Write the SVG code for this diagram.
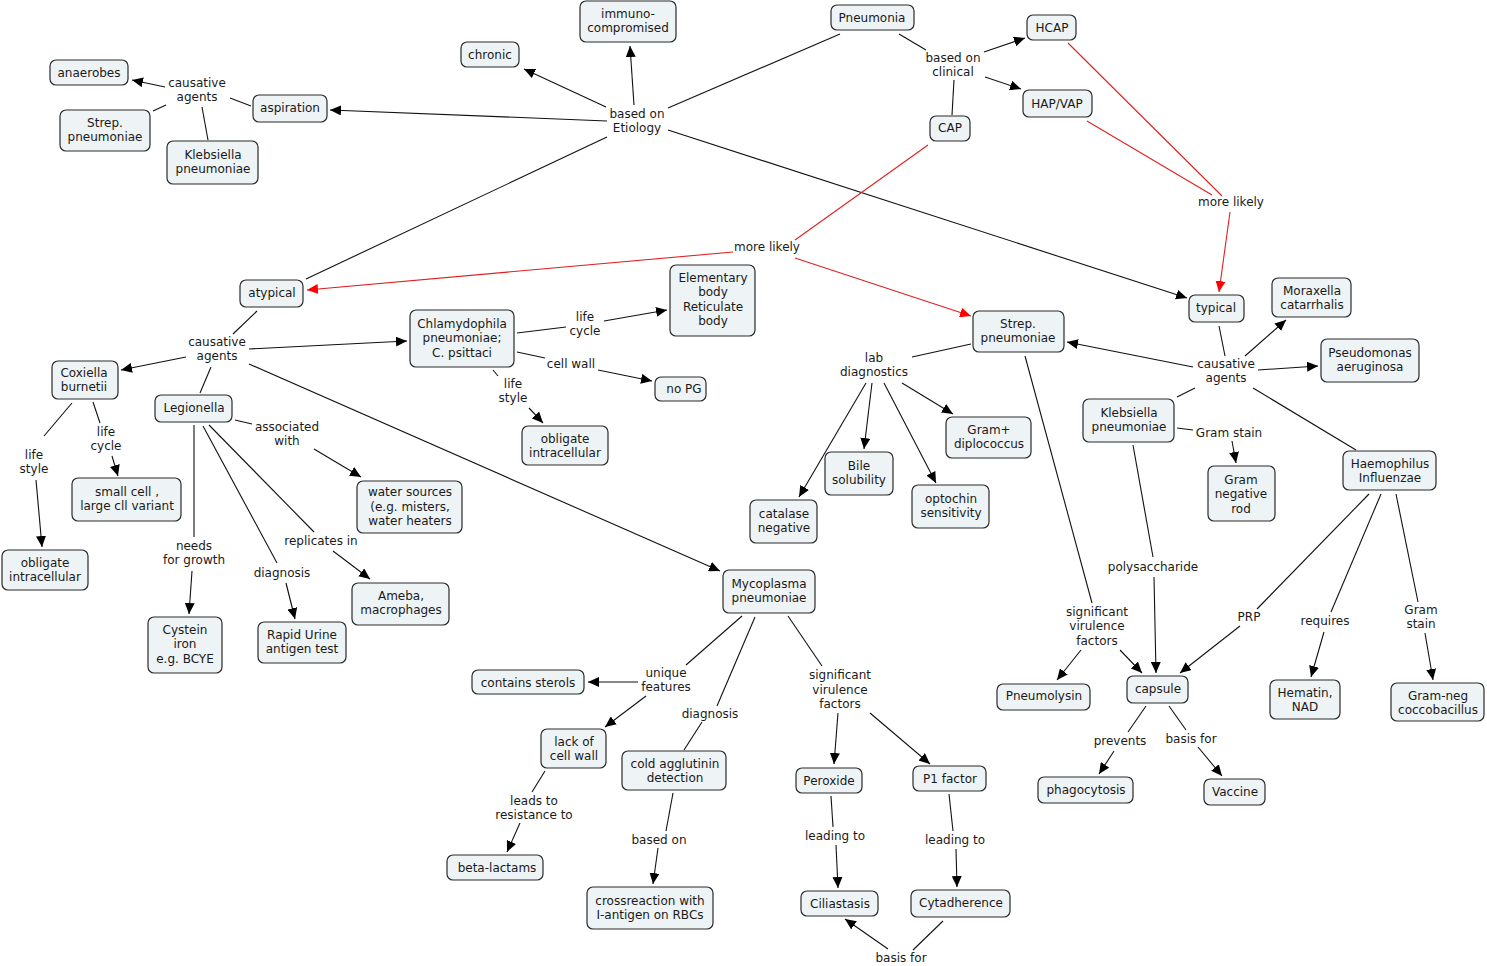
<svg xmlns="http://www.w3.org/2000/svg" width="1487" height="966" viewBox="0 0 1487 966">
<style>
rect{fill:#eef3f5;stroke:#2a2a2a;stroke-width:1.2}
text{font-family:"DejaVu Sans",Verdana,sans-serif;font-size:12px;fill:#1a1a1a;text-anchor:middle}
.c line{stroke:#111;stroke-width:1.1}
.c line.a{marker-end:url(#a)}
.c line.r{stroke:#e02020}
.c line.ra{stroke:#e02020;marker-end:url(#r)}
</style>
<defs>
<marker id="a" markerUnits="userSpaceOnUse" markerWidth="12" markerHeight="10" refX="11" refY="5" orient="auto"><path d="M0,0 L11,5 L0,10 z" fill="#000"/></marker>
<marker id="r" markerUnits="userSpaceOnUse" markerWidth="12" markerHeight="10" refX="11" refY="5" orient="auto"><path d="M0,0 L11,5 L0,10 z" fill="#f00"/></marker>
</defs>
<rect x="0" y="0" width="1487" height="966" style="fill:#fff;stroke:none"/>
<g class="c" id="connectors">
<line x1="840" y1="34" x2="668" y2="108"/>
<line x1="899" y1="34" x2="926" y2="50"/>
<line class="a" x1="606" y1="107" x2="524" y2="69"/>
<line class="a" x1="634" y1="105" x2="630" y2="46"/>
<line class="a" x1="607" y1="121" x2="330" y2="110"/>
<line x1="607" y1="137" x2="306" y2="279"/>
<line class="a" x1="668" y1="130" x2="1187" y2="298"/>
<line x1="251" y1="106" x2="230" y2="98"/>
<line class="a" x1="165" y1="87" x2="132" y2="80"/>
<line x1="166" y1="105" x2="153" y2="111"/>
<line x1="202" y1="107" x2="208" y2="140"/>
<line class="a" x1="984" y1="52" x2="1025" y2="38"/>
<line class="a" x1="985" y1="77" x2="1021" y2="89"/>
<line x1="954" y1="80" x2="952" y2="115"/>
<line class="r" x1="928" y1="145" x2="795" y2="240"/>
<line class="ra" x1="733" y1="252" x2="307" y2="290"/>
<line class="ra" x1="795" y1="258" x2="971" y2="316"/>
<line class="r" x1="1068" y1="43" x2="1222" y2="196"/>
<line class="r" x1="1087" y1="121" x2="1212" y2="195"/>
<line class="ra" x1="1230" y1="212" x2="1219" y2="292"/>
<line x1="257" y1="311" x2="233" y2="334"/>
<line class="a" x1="249" y1="349" x2="407" y2="341"/>
<line class="a" x1="186" y1="357" x2="121" y2="370"/>
<line x1="211" y1="367" x2="200" y2="393"/>
<line class="a" x1="249" y1="364" x2="720" y2="571"/>
<line x1="517" y1="333" x2="566" y2="327"/>
<line class="a" x1="604" y1="321" x2="667" y2="310"/>
<line x1="517" y1="352" x2="545" y2="358"/>
<line class="a" x1="598" y1="370" x2="652" y2="381"/>
<line x1="493" y1="370" x2="498" y2="376"/>
<line class="a" x1="529" y1="408" x2="543" y2="423"/>
<line x1="72" y1="403" x2="44" y2="436"/>
<line class="a" x1="36" y1="480" x2="42" y2="547"/>
<line x1="93" y1="402" x2="100" y2="423"/>
<line class="a" x1="112" y1="456" x2="118" y2="476"/>
<line x1="235" y1="420" x2="252" y2="424"/>
<line class="a" x1="314" y1="449" x2="361" y2="477"/>
<line x1="209" y1="425" x2="314" y2="532"/>
<line class="a" x1="333" y1="551" x2="370" y2="579"/>
<line x1="203" y1="426" x2="277" y2="563"/>
<line class="a" x1="286" y1="583" x2="295" y2="619"/>
<line x1="194" y1="425" x2="194" y2="537"/>
<line class="a" x1="192" y1="571" x2="189" y2="614"/>
<line x1="971" y1="344" x2="912" y2="357"/>
<line class="a" x1="866" y1="383" x2="799" y2="497"/>
<line class="a" x1="872" y1="383" x2="864" y2="449"/>
<line class="a" x1="884" y1="383" x2="936" y2="483"/>
<line class="a" x1="902" y1="383" x2="953" y2="414"/>
<line x1="1025" y1="356" x2="1092" y2="603"/>
<line class="a" x1="1081" y1="650" x2="1057" y2="680"/>
<line class="a" x1="1120" y1="650" x2="1142" y2="673"/>
<line x1="1219" y1="326" x2="1225" y2="356"/>
<line class="a" x1="1193" y1="367" x2="1067" y2="342"/>
<line class="a" x1="1245" y1="356" x2="1286" y2="320"/>
<line class="a" x1="1258" y1="370" x2="1318" y2="366"/>
<line x1="1195" y1="388" x2="1177" y2="397"/>
<line x1="1253" y1="388" x2="1356" y2="450"/>
<line x1="1177" y1="428" x2="1193" y2="430"/>
<line class="a" x1="1232" y1="441" x2="1236" y2="463"/>
<line x1="1133" y1="445" x2="1153" y2="557"/>
<line class="a" x1="1154" y1="577" x2="1156" y2="673"/>
<line x1="1369" y1="494" x2="1257" y2="609"/>
<line class="a" x1="1240" y1="626" x2="1180" y2="673"/>
<line x1="1381" y1="494" x2="1331" y2="612"/>
<line class="a" x1="1324" y1="632" x2="1311" y2="677"/>
<line x1="1396" y1="494" x2="1418" y2="602"/>
<line class="a" x1="1425" y1="633" x2="1433" y2="680"/>
<line x1="1146" y1="706" x2="1128" y2="732"/>
<line class="a" x1="1114" y1="751" x2="1099" y2="774"/>
<line x1="1169" y1="706" x2="1186" y2="730"/>
<line class="a" x1="1198" y1="747" x2="1222" y2="776"/>
<line x1="742" y1="616" x2="686" y2="665"/>
<line class="a" x1="638" y1="682" x2="588" y2="682"/>
<line class="a" x1="646" y1="696" x2="605" y2="727"/>
<line x1="755" y1="617" x2="717" y2="706"/>
<line x1="702" y1="722" x2="684" y2="750"/>
<line x1="788" y1="616" x2="822" y2="666"/>
<line class="a" x1="838" y1="713" x2="834" y2="764"/>
<line class="a" x1="870" y1="713" x2="930" y2="764"/>
<line x1="545" y1="771" x2="532" y2="792"/>
<line class="a" x1="520" y1="823" x2="507" y2="852"/>
<line x1="673" y1="793" x2="666" y2="831"/>
<line class="a" x1="658" y1="848" x2="653" y2="884"/>
<line x1="831" y1="796" x2="833" y2="827"/>
<line class="a" x1="836" y1="845" x2="838" y2="888"/>
<line x1="949" y1="794" x2="953" y2="831"/>
<line class="a" x1="956" y1="849" x2="957" y2="887"/>
<line x1="943" y1="921" x2="913" y2="950"/>
<line class="a" x1="888" y1="949" x2="845" y2="919"/>
</g>
<g id="labels">
<text x="197" y="87">causative</text><text x="197" y="101">agents</text>
<text x="637" y="118">based on</text><text x="637" y="132">Etiology</text>
<text x="953" y="62">based on</text><text x="953" y="76">clinical</text>
<text x="1231" y="206">more likely</text>
<text x="767" y="251">more likely</text>
<text x="217" y="346">causative</text><text x="217" y="360">agents</text>
<text x="585" y="321">life</text><text x="585" y="335">cycle</text>
<text x="571" y="368">cell wall</text>
<text x="513" y="388">life</text><text x="513" y="402">style</text>
<text x="34" y="459">life</text><text x="34" y="473">style</text>
<text x="106" y="436">life</text><text x="106" y="450">cycle</text>
<text x="287" y="431">associated</text><text x="287" y="445">with</text>
<text x="321" y="545">replicates in</text>
<text x="194" y="550">needs</text><text x="194" y="564">for growth</text>
<text x="282" y="577">diagnosis</text>
<text x="874" y="362">lab</text><text x="874" y="376">diagnostics</text>
<text x="1226" y="368">causative</text><text x="1226" y="382">agents</text>
<text x="1229" y="437">Gram stain</text>
<text x="1153" y="571">polysaccharide</text>
<text x="1097" y="616">significant</text><text x="1097" y="630">virulence</text><text x="1097" y="645">factors</text>
<text x="1249" y="621">PRP</text>
<text x="1325" y="625">requires</text>
<text x="1421" y="614">Gram</text><text x="1421" y="628">stain</text>
<text x="1120" y="745">prevents</text>
<text x="1191" y="743">basis for</text>
<text x="666" y="677">unique</text><text x="666" y="691">features</text>
<text x="710" y="718">diagnosis</text>
<text x="840" y="679">significant</text><text x="840" y="694">virulence</text><text x="840" y="708">factors</text>
<text x="534" y="805">leads to</text><text x="534" y="819">resistance to</text>
<text x="659" y="844">based on</text>
<text x="835" y="840">leading to</text>
<text x="955" y="844">leading to</text>
<text x="901" y="962">basis for</text>
</g>
<g id="n-pneumonia"><rect x="831" y="5" width="83" height="25" rx="6"/><text x="872" y="22">Pneumonia</text></g>
<g id="n-immuno"><rect x="580" y="1" width="96" height="41" rx="6"/><text x="628" y="18">immuno-</text><text x="628" y="32">compromised</text></g>
<g id="n-chronic"><rect x="461" y="42" width="58" height="25" rx="6"/><text x="490" y="59">chronic</text></g>
<g id="n-anaerobes"><rect x="50" y="60" width="78" height="25" rx="6"/><text x="89" y="77">anaerobes</text></g>
<g id="n-aspiration"><rect x="253" y="95" width="74" height="27" rx="6"/><text x="290" y="112">aspiration</text></g>
<g id="n-strep-l"><rect x="60" y="110" width="90" height="41" rx="6"/><text x="105" y="127">Strep.</text><text x="105" y="141">pneumoniae</text></g>
<g id="n-kleb-l"><rect x="167" y="141" width="91" height="43" rx="6"/><text x="213" y="159">Klebsiella</text><text x="213" y="173">pneumoniae</text></g>
<g id="n-hcap"><rect x="1027" y="15" width="49" height="25" rx="6"/><text x="1052" y="32">HCAP</text></g>
<g id="n-hapvap"><rect x="1023" y="90" width="69" height="27" rx="6"/><text x="1057" y="108">HAP/VAP</text></g>
<g id="n-cap"><rect x="930" y="116" width="40" height="25" rx="6"/><text x="950" y="132">CAP</text></g>
<g id="n-atypical"><rect x="240" y="280" width="63" height="27" rx="6"/><text x="272" y="297">atypical</text></g>
<g id="n-chlam"><rect x="410" y="310" width="104" height="57" rx="6"/><text x="462" y="328">Chlamydophila</text><text x="462" y="342">pneumoniae;</text><text x="462" y="357">C. psittaci</text></g>
<g id="n-elem"><rect x="670" y="265" width="85" height="71" rx="6"/><text x="713" y="282">Elementary</text><text x="713" y="296">body</text><text x="713" y="311">Reticulate</text><text x="713" y="325">body</text></g>
<g id="n-nopg"><rect x="655" y="377" width="51" height="24" rx="6"/><text x="684" y="393">no PG</text></g>
<g id="n-oblig-m"><rect x="522" y="426" width="86" height="39" rx="6"/><text x="565" y="443">obligate</text><text x="565" y="457">intracellular</text></g>
<g id="n-coxiella"><rect x="52" y="361" width="66" height="38" rx="6"/><text x="84" y="377">Coxiella</text><text x="84" y="391">burnetii</text></g>
<g id="n-legionella"><rect x="155" y="395" width="77" height="27" rx="6"/><text x="194" y="412">Legionella</text></g>
<g id="n-smallcell"><rect x="72" y="478" width="109" height="43" rx="6"/><text x="127" y="496">small cell ,</text><text x="127" y="510">large cll variant</text></g>
<g id="n-oblig-l"><rect x="2" y="550" width="86" height="40" rx="6"/><text x="45" y="567">obligate</text><text x="45" y="581">intracellular</text></g>
<g id="n-water"><rect x="357" y="481" width="105" height="52" rx="6"/><text x="410" y="496">water sources</text><text x="410" y="511">(e.g. misters,</text><text x="410" y="525">water heaters</text></g>
<g id="n-cystein"><rect x="148" y="617" width="74" height="56" rx="6"/><text x="185" y="634">Cystein</text><text x="185" y="648">iron</text><text x="185" y="663">e.g. BCYE</text></g>
<g id="n-rapid"><rect x="258" y="622" width="88" height="41" rx="6"/><text x="302" y="639">Rapid Urine</text><text x="302" y="653">antigen test</text></g>
<g id="n-ameba"><rect x="352" y="583" width="97" height="42" rx="6"/><text x="401" y="600">Ameba,</text><text x="401" y="614">macrophages</text></g>
<g id="n-myco"><rect x="723" y="570" width="92" height="43" rx="6"/><text x="769" y="588">Mycoplasma</text><text x="769" y="602">pneumoniae</text></g>
<g id="n-sterols"><rect x="472" y="670" width="112" height="24" rx="6"/><text x="528" y="687">contains sterols</text></g>
<g id="n-lackwall"><rect x="541" y="729" width="65" height="39" rx="6"/><text x="574" y="746">lack of</text><text x="574" y="760">cell wall</text></g>
<g id="n-cold"><rect x="622" y="751" width="104" height="39" rx="6"/><text x="675" y="768">cold agglutinin</text><text x="675" y="782">detection</text></g>
<g id="n-beta"><rect x="447" y="855" width="96" height="25" rx="6"/><text x="497" y="872">beta-lactams</text></g>
<g id="n-cross"><rect x="587" y="887" width="126" height="42" rx="6"/><text x="650" y="905">crossreaction with</text><text x="650" y="919">I-antigen on RBCs</text></g>
<g id="n-peroxide"><rect x="796" y="768" width="66" height="25" rx="6"/><text x="829" y="785">Peroxide</text></g>
<g id="n-p1"><rect x="913" y="766" width="73" height="25" rx="6"/><text x="950" y="783">P1 factor</text></g>
<g id="n-cilia"><rect x="801" y="891" width="77" height="25" rx="6"/><text x="840" y="908">Ciliastasis</text></g>
<g id="n-cytad"><rect x="911" y="890" width="99" height="27" rx="6"/><text x="961" y="907">Cytadherence</text></g>
<g id="n-strep-r"><rect x="973" y="311" width="91" height="41" rx="6"/><text x="1018" y="328">Strep.</text><text x="1018" y="342">pneumoniae</text></g>
<g id="n-catalase"><rect x="750" y="500" width="67" height="43" rx="6"/><text x="784" y="518">catalase</text><text x="784" y="532">negative</text></g>
<g id="n-bile"><rect x="825" y="452" width="68" height="43" rx="6"/><text x="859" y="470">Bile</text><text x="859" y="484">solubility</text></g>
<g id="n-optochin"><rect x="912" y="485" width="77" height="43" rx="6"/><text x="951" y="503">optochin</text><text x="951" y="517">sensitivity</text></g>
<g id="n-gramplus"><rect x="946" y="417" width="85" height="41" rx="6"/><text x="989" y="434">Gram+</text><text x="989" y="448">diplococcus</text></g>
<g id="n-typical"><rect x="1189" y="295" width="55" height="27" rx="6"/><text x="1216" y="312">typical</text></g>
<g id="n-moraxella"><rect x="1272" y="278" width="79" height="39" rx="6"/><text x="1312" y="295">Moraxella</text><text x="1312" y="309">catarrhalis</text></g>
<g id="n-pseudo"><rect x="1321" y="339" width="98" height="43" rx="6"/><text x="1370" y="357">Pseudomonas</text><text x="1370" y="371">aeruginosa</text></g>
<g id="n-kleb-r"><rect x="1083" y="399" width="91" height="43" rx="6"/><text x="1129" y="417">Klebsiella</text><text x="1129" y="431">pneumoniae</text></g>
<g id="n-gramrod"><rect x="1208" y="466" width="67" height="55" rx="6"/><text x="1241" y="484">Gram</text><text x="1241" y="498">negative</text><text x="1241" y="513">rod</text></g>
<g id="n-haemo"><rect x="1343" y="451" width="93" height="39" rx="6"/><text x="1390" y="468">Haemophilus</text><text x="1390" y="482">Influenzae</text></g>
<g id="n-pneumolysin"><rect x="997" y="684" width="93" height="26" rx="6"/><text x="1044" y="700">Pneumolysin</text></g>
<g id="n-capsule"><rect x="1127" y="676" width="61" height="27" rx="6"/><text x="1158" y="693">capsule</text></g>
<g id="n-hematin"><rect x="1270" y="680" width="70" height="39" rx="6"/><text x="1305" y="697">Hematin,</text><text x="1305" y="711">NAD</text></g>
<g id="n-gramneg"><rect x="1391" y="683" width="93" height="38" rx="6"/><text x="1438" y="700">Gram-neg</text><text x="1438" y="714">coccobacillus</text></g>
<g id="n-phago"><rect x="1038" y="777" width="95" height="26" rx="6"/><text x="1086" y="794">phagocytosis</text></g>
<g id="n-vaccine"><rect x="1204" y="779" width="61" height="26" rx="6"/><text x="1235" y="796">Vaccine</text></g>
</svg>
